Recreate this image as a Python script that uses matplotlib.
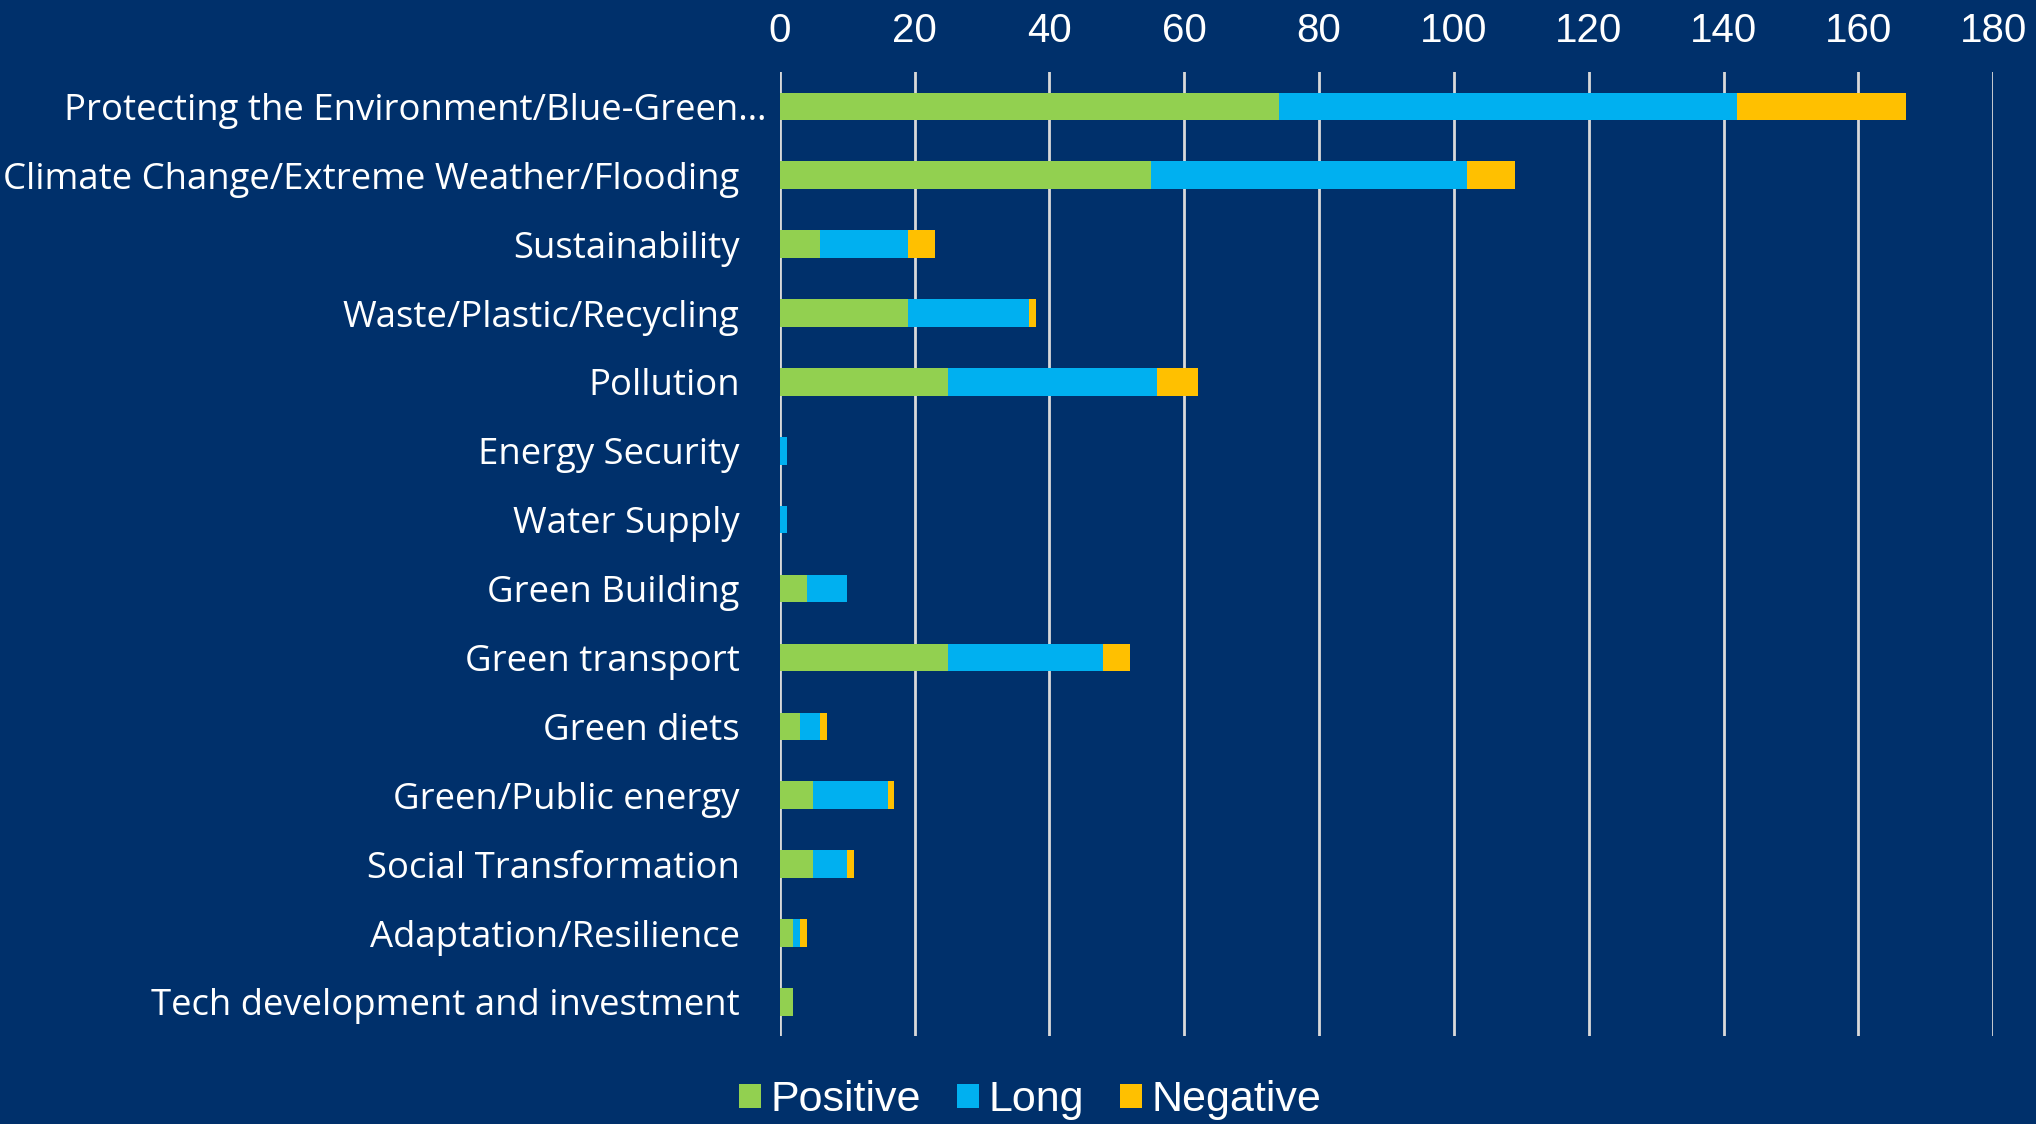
import numpy as np
import matplotlib
matplotlib.use("Agg")
import matplotlib.pyplot as plt
import matplotlib.transforms as mtransforms
from matplotlib.patches import Patch

# topics, top to bottom
topics = [
    "Protecting the Environment/Blue-Green\u2026",
    "Climate Change/Extreme Weather/Flooding",
    "Sustainability",
    "Waste/Plastic/Recycling",
    "Pollution",
    "Energy Security",
    "Water Supply",
    "Green Building",
    "Green transport",
    "Green diets",
    "Green/Public energy",
    "Social Transformation",
    "Adaptation/Resilience",
    "Tech development and investment",
]
positive = [74, 55, 6, 19, 25, 0, 0, 4, 25, 3, 5, 5, 2, 2]
long_term = [68, 47, 13, 18, 31, 1, 1, 6, 23, 3, 11, 5, 1, 0]
negative = [25, 7, 4, 1, 6, 0, 0, 0, 4, 1, 1, 1, 1, 0]
x_ticks = list(range(0, 181, 20))

bg = "#00306B"
colors = {"Positive": "#92D050", "Long": "#00B0F0", "Negative": "#FFC000"}

fig = plt.figure(figsize=(20.36, 11.24), dpi=100, facecolor=bg)
ax = fig.add_axes([0.383, 0.078, 0.596, 0.858])
ax.set_facecolor(bg)

y = np.arange(len(topics))
pos = np.array(positive)
lng = np.array(long_term)
neg = np.array(negative)
h = 0.4
ax.barh(y, pos, height=h, color=colors["Positive"], linewidth=0, zorder=3)
ax.barh(y, lng, left=pos, height=h, color=colors["Long"], linewidth=0, zorder=3)
ax.barh(y, neg, left=pos + lng, height=h, color=colors["Negative"], linewidth=0, zorder=3)

ax.set_xlim(0, 180)
ax.set_ylim(len(topics) - 0.5, -0.5)
ax.set_xticks(x_ticks)
ax.xaxis.tick_top()
ax.tick_params(axis="x", length=0, pad=16, labelsize=29, labelcolor="white")
for lab in ax.get_xticklabels():
    lab.set_fontfamily("Liberation Sans")
ax.set_yticks(y)
ax.set_yticklabels(topics, fontfamily="Open Sans", fontsize=26.3, color="white")
ax.tick_params(axis="y", length=0, pad=29)
# the truncated first label sits a bit closer to the axis
first = ax.get_yticklabels()[0]
first.set_transform(first.get_transform() +
                    mtransforms.ScaledTranslation(27 / 100, 0, fig.dpi_scale_trans))

ax.grid(axis="x", color="#D9D9D9", linewidth=2, zorder=1)
for s in ax.spines.values():
    s.set_visible(False)

handles = [Patch(facecolor=c, edgecolor="none", label=k) for k, c in colors.items()]
leg = fig.legend(handles=handles, loc="center", bbox_to_anchor=(0.506, 0.021), ncol=3,
                 frameon=False, handlelength=0.5, handleheight=0.5, handletextpad=0.22,
                 columnspacing=0.85, prop={"family": "Liberation Sans", "size": 31})
for t in leg.get_texts():
    t.set_color("white")

fig.savefig("out.png", dpi=100, facecolor=bg)
